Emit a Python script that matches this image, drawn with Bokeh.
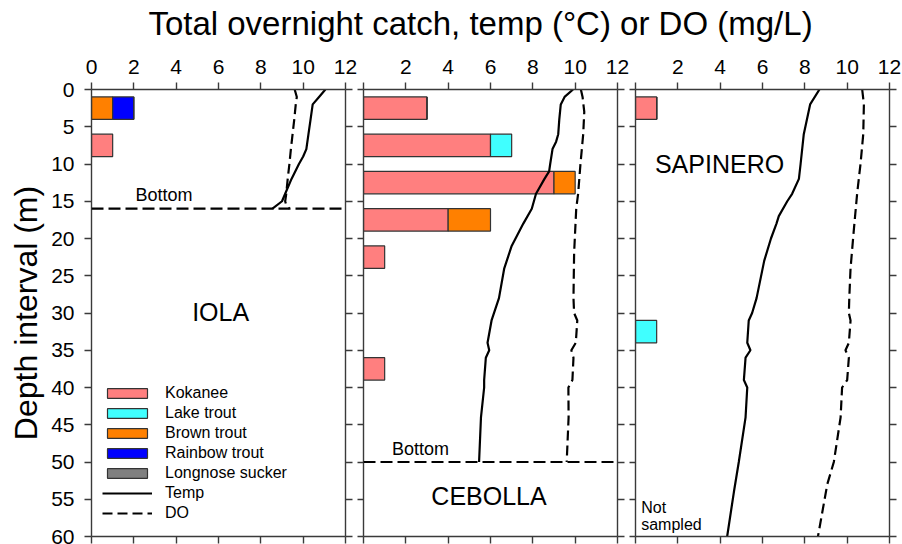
import numpy as np
from bokeh.plotting import figure
from bokeh.layouts import column, row
from bokeh.models import (Range1d, LinearAxis, FixedTicker, Span, Legend, LegendItem,
                          ColumnDataSource, Label, CustomJSTickFormatter)
from bokeh.embed import file_html
from bokeh.resources import INLINE

FONT = "Liberation Sans"
AXIS_COLOR = "#3a3a3a"

# ---- data -------------------------------------------------------------
species = ["Kokanee", "Lake trout", "Brown trout", "Rainbow trout", "Longnose sucker"]
species_colors = ["#FF7F7F", "#40FFFF", "#FF8000", "#0000FF", "#808080"]

# 5 m depth intervals (mid-points), nets drawn 3 m tall
depth_mid = [2.5, 7.5, 12.5, 17.5, 22.5, 27.5, 32.5, 37.5, 42.5, 47.5, 52.5, 57.5]

iola_catch = {
    "Kokanee":         [0, 1, 0, 0, 0, 0, 0, 0, 0, 0, 0, 0],
    "Lake trout":      [0, 0, 0, 0, 0, 0, 0, 0, 0, 0, 0, 0],
    "Brown trout":     [1, 0, 0, 0, 0, 0, 0, 0, 0, 0, 0, 0],
    "Rainbow trout":   [1, 0, 0, 0, 0, 0, 0, 0, 0, 0, 0, 0],
    "Longnose sucker": [0, 0, 0, 0, 0, 0, 0, 0, 0, 0, 0, 0],
}
cebolla_catch = {
    "Kokanee":         [3, 6, 9, 4, 1, 0, 0, 1, 0, 0, 0, 0],
    "Lake trout":      [0, 1, 0, 0, 0, 0, 0, 0, 0, 0, 0, 0],
    "Brown trout":     [0, 0, 1, 2, 0, 0, 0, 0, 0, 0, 0, 0],
    "Rainbow trout":   [0, 0, 0, 0, 0, 0, 0, 0, 0, 0, 0, 0],
    "Longnose sucker": [0, 0, 0, 0, 0, 0, 0, 0, 0, 0, 0, 0],
}
sapinero_catch = {
    "Kokanee":         [1, 0, 0, 0, 0, 0, 0, 0, 0, 0, 0, 0],
    "Lake trout":      [0, 0, 0, 0, 0, 0, 1, 0, 0, 0, 0, 0],
    "Brown trout":     [0, 0, 0, 0, 0, 0, 0, 0, 0, 0, 0, 0],
    "Rainbow trout":   [0, 0, 0, 0, 0, 0, 0, 0, 0, 0, 0, 0],
    "Longnose sucker": [0, 0, 0, 0, 0, 0, 0, 0, 0, 0, 0, 0],
}

# temperature (degC) and dissolved oxygen (mg/L) profiles
iola_temp_depth = [0, 1, 2, 4, 6, 8, 9, 10, 12, 14, 15, 16]
iola_temp = [11.05, 10.75, 10.45, 10.35, 10.25, 10.15, 10.0, 9.8, 9.45, 9.15, 9.0, 8.55]
iola_do_depth = [0, 1, 2, 4, 6, 8, 10, 12, 14, 15, 15.5, 16]
iola_do = [9.6, 9.7, 9.65, 9.58, 9.5, 9.42, 9.35, 9.27, 9.2, 9.15, 9.2, 9.35]

cebolla_temp_depth = [0, 1, 2, 4, 6, 7, 8, 10, 11, 12, 14, 16, 18, 21, 24, 28, 31,
                      34, 35, 36, 39, 40, 44, 50]
cebolla_temp = [9.9, 9.5, 9.32, 9.25, 9.2, 9.1, 8.93, 8.82, 8.77, 8.55, 8.15, 7.95,
                7.55, 7.0, 6.65, 6.4, 6.05, 5.86, 5.94, 5.78, 5.7, 5.7, 5.55, 5.46]
cebolla_do_depth = [0, 1, 3, 6, 10, 14, 16, 22, 28, 30, 31, 34, 35, 36, 39, 40, 44, 50]
cebolla_do = [10.27, 10.35, 10.43, 10.38, 10.25, 10.14, 10.05, 9.95, 9.92, 9.95, 10.1,
              10.03, 9.82, 9.92, 9.87, 9.68, 9.69, 9.6]

sapinero_temp_depth = [0, 2, 6, 10, 12, 14, 15, 17, 18, 20, 23, 28, 30, 31, 34, 35,
                       36, 39, 40, 44, 50, 54, 60]
sapinero_temp = [8.69, 8.25, 7.95, 7.8, 7.72, 7.4, 7.17, 6.77, 6.66, 6.4, 6.08, 5.72,
                 5.51, 5.35, 5.28, 5.43, 5.2, 5.12, 5.28, 5.2, 4.88, 4.65, 4.33]
sapinero_do_depth = [0, 2, 6, 10, 14, 19, 24, 28, 30, 31, 34, 35, 36, 39, 40, 44, 50,
                     53, 60]
sapinero_do = [10.71, 10.79, 10.76, 10.63, 10.47, 10.31, 10.16, 10.1, 10.08, 10.16,
               10.08, 9.92, 10.08, 10.0, 9.76, 9.69, 9.37, 9.06, 8.62]

x_ticks = [0, 2, 4, 6, 8, 10, 12]
depth_ticks = [0, 5, 10, 15, 20, 25, 30, 35, 40, 45, 50, 55, 60]

BLANK = CustomJSTickFormatter(code="return ''")


def style_axis(ax, tick_out):
    ax.axis_line_color = AXIS_COLOR
    ax.axis_line_width = 1.4
    ax.major_tick_line_color = AXIS_COLOR
    ax.major_tick_line_width = 1.4
    ax.major_tick_out = tick_out
    ax.major_tick_in = 0
    ax.minor_tick_out = 0
    ax.minor_tick_in = 0
    ax.major_label_text_font = FONT
    ax.major_label_text_font_size = "21px"
    ax.major_label_text_color = "black"


def make_panel(width, left_border, right_border, label_depth, hide_zero):
    p = figure(width=width, height=498, title=None,
               x_range=Range1d(0, 12), y_range=Range1d(60, 0),
               min_border_left=left_border, min_border_right=right_border,
               min_border_top=43, min_border_bottom=8,
               x_axis_location=None, y_axis_location=None,
               toolbar_location=None, output_backend="svg")
    p.outline_line_color = None
    p.grid.visible = False
    p.background_fill_color = "white"
    p.border_fill_color = "white"

    top = LinearAxis(ticker=FixedTicker(ticks=x_ticks))
    style_axis(top, 7)
    top.major_label_standoff = 9
    if hide_zero:
        top.major_label_overrides = {0: ""}
    p.add_layout(top, "above")

    bottom = LinearAxis(ticker=FixedTicker(ticks=x_ticks), formatter=BLANK)
    style_axis(bottom, 7)
    bottom.major_label_standoff = 0
    p.add_layout(bottom, "below")

    left = LinearAxis(ticker=FixedTicker(ticks=depth_ticks))
    style_axis(left, 7 if label_depth else 6)
    if label_depth:
        left.major_label_standoff = 10
        left.axis_label = "Depth interval (m)"
        left.axis_label_text_font = FONT
        left.axis_label_text_font_size = "32px"
        left.axis_label_text_font_style = "normal"
        left.axis_label_text_color = "black"
        left.axis_label_standoff = 4
    else:
        left.formatter = BLANK
        left.major_label_standoff = 0
    p.add_layout(left, "left")

    right = LinearAxis(ticker=FixedTicker(ticks=depth_ticks), formatter=BLANK)
    style_axis(right, 7)
    right.major_label_standoff = 0
    p.add_layout(right, "right")
    return p


def draw_catch(p, catch):
    renderers = {}
    base = np.zeros(len(depth_mid))
    for name, color in zip(species, species_colors):
        vals = np.array(catch[name], dtype=float)
        keep = vals > 0
        if not keep.any():
            # a species with no catch keeps its first (zero) interval so that
            # the renderer still has a row to show in the legend
            keep[0] = True
        src = ColumnDataSource(dict(
            y=np.array(depth_mid)[keep],
            left=base[keep],
            right=(base + vals)[keep],
        ))
        renderers[name] = p.hbar(y="y", left="left", right="right", height=3,
                                 source=src, fill_color=color,
                                 line_color="#333333", line_width=1.2)
        base = base + vals
    return renderers


def draw_profiles(p, temp_depth, temp, do_depth, do):
    rt = p.line(temp, temp_depth, line_color="black", line_width=2.2)
    rd = p.line(do, do_depth, line_color="black", line_width=2.2, line_dash="10 5")
    return rt, rd


def add_text(p, x, y, text, size, align="center"):
    p.add_layout(Label(x=x, y=y, text=text, text_font=FONT, text_font_size=size,
                       text_align=align, text_baseline="middle", text_color="black"))


# ---- panels -------------------------------------------------------------
p1 = make_panel(357, 91, 12, True, False)
p2 = make_panel(272, 6, 12, False, True)
p3 = make_panel(273, 6, 13, False, True)

r1 = draw_catch(p1, iola_catch)
t1, d1 = draw_profiles(p1, iola_temp_depth, iola_temp, iola_do_depth, iola_do)
draw_catch(p2, cebolla_catch)
draw_profiles(p2, cebolla_temp_depth, cebolla_temp, cebolla_do_depth, cebolla_do)
draw_catch(p3, sapinero_catch)
draw_profiles(p3, sapinero_temp_depth, sapinero_temp, sapinero_do_depth, sapinero_do)

# lake bottoms
p1.add_layout(Span(location=16, dimension="width", line_color="black",
                   line_width=2.2, line_dash="12 5"))
p2.add_layout(Span(location=50, dimension="width", line_color="black",
                   line_width=2.2, line_dash="12 5"))

add_text(p1, 3.42, 14.1, "Bottom", "18px")
add_text(p2, 2.69, 48.3, "Bottom", "18px")
add_text(p1, 6.1, 29.8, "IOLA", "25px")
add_text(p2, 5.93, 54.6, "CEBOLLA", "25px")
add_text(p3, 3.97, 10.0, "SAPINERO", "25px")
add_text(p3, 0.27, 56.1, "Not", "16px", align="left")
add_text(p3, 0.27, 58.4, "sampled", "16px", align="left")

items = [LegendItem(label=name, renderers=[r1[name]]) for name in species]
items += [LegendItem(label="Temp", renderers=[t1]), LegendItem(label="DO", renderers=[d1])]
legend = Legend(items=items, location=(11, 14), margin=0, padding=0,
                glyph_width=50, glyph_height=12, label_standoff=13,
                label_text_font=FONT, label_text_font_size="16px",
                label_text_color="black",
                label_height=18, spacing=2,
                border_line_color=None, background_fill_alpha=0)
p1.add_layout(legend)

# ---- heading --------------------------------------------------------------
head = figure(width=902, height=46, title=None,
              x_range=Range1d(0, 902), y_range=Range1d(0, 46),
              min_border=0, x_axis_location=None, y_axis_location=None,
              toolbar_location=None, output_backend="svg")
head.outline_line_color = None
head.grid.visible = False
head.add_layout(Label(x=480, y=23, text="Total overnight catch, temp (\u00b0C) or DO (mg/L)",
                      text_font=FONT, text_font_size="33px", text_align="center",
                      text_baseline="middle", text_color="black"))

layout = column(head, row(p1, p2, p3, spacing=0), spacing=0)
open("out.html", "w").write(file_html(layout, INLINE))
